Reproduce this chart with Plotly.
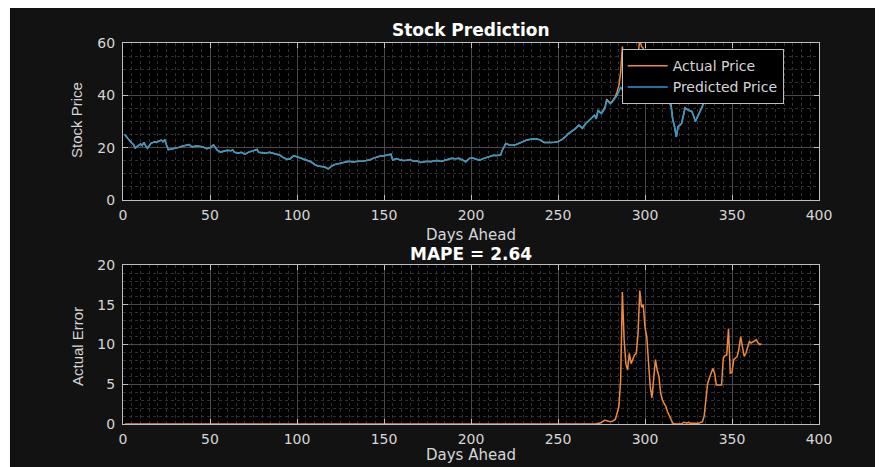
import plotly.graph_objects as go

# ---------------- data ----------------
days = [
    1, 2, 3, 4, 5, 6, 7, 8, 9, 10,
    11, 12, 13, 14, 15, 16, 17, 18, 19, 20,
    22, 23, 24, 25, 26, 28, 30, 32, 34, 36,
    38, 39, 40, 42, 44, 46, 48, 50, 52, 53,
    54, 56, 58, 60, 62, 63, 64, 66, 68, 70,
    72, 74, 76, 77, 78, 80, 82, 84, 86, 88,
    90, 92, 94, 96, 98, 100, 102, 104, 106, 108,
    110, 112, 114, 116, 118, 120, 122, 124, 126, 128,
    130, 132, 134, 136, 138, 140, 142, 144, 146, 148,
    150, 152, 154, 155, 157, 159, 161, 163, 165, 167,
    169, 171, 173, 175, 177, 179, 181, 183, 185, 187,
    189, 191, 193, 195, 197, 199, 201, 203, 205, 207,
    209, 211, 213, 215, 217, 218, 219, 220, 222, 224,
    226, 228, 230, 232, 234, 236, 238, 240, 242, 244,
    246, 248, 250, 252, 254, 256, 258, 260, 262, 264,
    266, 268, 270, 271, 272, 273, 274, 275, 276, 277,
    278, 279, 280, 281, 282, 283, 284, 285, 286, 287,
    288, 289, 290, 291, 292, 293, 294, 295, 296, 297,
    298, 299, 300, 301, 302, 303, 304, 305, 306, 307,
    308, 309, 310, 311, 312, 313, 314, 315, 316, 317,
    318, 319, 320, 321, 322, 323, 324, 325, 326, 327,
    328, 329, 330, 331, 332, 333, 334, 335, 336, 337,
    338, 339, 340, 341, 342, 343, 344, 345, 346, 347,
    348, 349, 350, 351, 352, 353, 354, 355, 356, 357,
    358, 359, 360, 361, 362, 363, 364, 365, 366, 367,
]

predicted_price = [
    25.0, 24.0, 23.0, 22.5, 21.8, 21.2, 19.8, 20.4, 21.0, 21.4,
    20.8, 22.0, 20.8, 19.8, 20.6, 21.6, 21.9, 22.2, 22.0, 22.4,
    22.9, 22.3, 23.0, 21.0, 19.2, 19.5, 19.7, 20.1, 20.5, 20.9,
    21.2, 20.6, 20.3, 20.7, 20.4, 20.3, 19.6, 19.9, 21.1, 20.2,
    19.1, 18.3, 18.6, 19.0, 18.8, 19.2, 18.3, 17.9, 18.2, 17.5,
    18.2, 18.7, 19.1, 19.3, 18.2, 18.0, 17.9, 18.2, 17.9, 17.6,
    17.2, 16.3, 15.6, 15.7, 16.9, 16.5, 16.0, 15.4, 15.1, 14.6,
    13.6, 13.0, 12.8, 12.6, 11.9, 13.0, 13.6, 14.0, 14.2, 14.5,
    14.8, 14.5, 14.7, 14.7, 14.9, 15.1, 15.4, 16.0, 16.5, 16.8,
    16.9, 17.1, 17.5, 15.3, 15.8, 15.4, 15.1, 15.2, 15.4, 14.8,
    14.9, 14.3, 14.5, 14.8, 14.6, 15.0, 15.1, 14.7, 15.2, 15.5,
    15.9, 15.8, 15.9, 15.3, 14.6, 15.9, 16.0, 15.6, 15.2, 15.8,
    16.2, 16.6, 17.1, 17.0, 17.2, 19.0, 20.5, 21.6, 21.0, 20.9,
    21.2, 21.6, 22.3, 22.9, 23.1, 23.4, 23.3, 22.9, 22.0, 21.9,
    22.0, 22.1, 22.3, 23.0, 24.0, 25.4, 26.2, 27.3, 28.6, 27.4,
    29.2, 30.5, 31.8, 32.4, 31.0, 34.3, 33.5, 33.0, 34.0, 35.0,
    38.1, 37.5, 36.8, 37.3, 38.1, 39.0, 40.0, 41.5, 43.2, 42.0,
    42.0, 42.6, 39.4, 41.0, 42.6, 42.4, 43.0, 43.5, 44.0, 44.5,
    44.0, 43.0, 42.0, 41.8, 41.3, 40.5, 40.0, 41.0, 42.0, 41.5,
    41.3, 42.6, 39.5, 38.8, 38.5, 38.1, 37.0, 35.6, 30.5, 28.0,
    24.1, 28.0, 28.5, 29.2, 32.0, 35.0, 34.6, 34.3, 34.0, 33.7,
    32.0, 30.0, 31.5, 33.0, 34.5, 35.6, 38.0, 40.7, 41.8, 42.6,
    43.0, 43.2, 42.0, 40.0, 42.5, 43.5, 43.0, 43.3, 43.8, 43.0,
    40.7, 43.0, 44.0, 43.5, 43.0, 43.8, 43.5, 43.8, 43.2, 43.0,
    43.6, 44.0, 44.2, 43.5, 43.8, 43.6, 43.4, 43.7, 43.5, 43.6,
]

actual_price = [
    25.0, 24.0, 23.0, 22.5, 21.8, 21.2, 19.8, 20.4, 21.0, 21.4,
    20.8, 22.0, 20.8, 19.8, 20.6, 21.6, 21.9, 22.2, 22.0, 22.4,
    22.9, 22.3, 23.0, 21.0, 19.2, 19.5, 19.7, 20.1, 20.5, 20.9,
    21.2, 20.6, 20.3, 20.7, 20.4, 20.3, 19.6, 19.9, 21.1, 20.2,
    19.1, 18.3, 18.6, 19.0, 18.8, 19.2, 18.3, 17.9, 18.2, 17.5,
    18.2, 18.7, 19.1, 19.3, 18.2, 18.0, 17.9, 18.2, 17.9, 17.6,
    17.2, 16.3, 15.6, 15.7, 16.9, 16.5, 16.0, 15.4, 15.1, 14.6,
    13.6, 13.0, 12.8, 12.6, 11.9, 13.0, 13.6, 14.0, 14.2, 14.5,
    14.8, 14.5, 14.7, 14.7, 14.9, 15.1, 15.4, 16.0, 16.5, 16.8,
    16.9, 17.1, 17.5, 15.3, 15.8, 15.4, 15.1, 15.2, 15.4, 14.8,
    14.9, 14.3, 14.5, 14.8, 14.6, 15.0, 15.1, 14.7, 15.2, 15.5,
    15.9, 15.8, 15.9, 15.3, 14.6, 15.9, 16.0, 15.6, 15.2, 15.8,
    16.2, 16.6, 17.1, 17.0, 17.2, 19.0, 20.5, 21.6, 21.0, 20.9,
    21.2, 21.6, 22.3, 22.9, 23.1, 23.4, 23.3, 22.9, 22.0, 21.9,
    22.0, 22.1, 22.3, 23.0, 24.0, 25.4, 26.2, 27.3, 28.6, 27.4,
    29.2, 30.5, 31.8, 32.4, 31.0, 34.4, 33.6, 33.2, 34.3, 35.5,
    38.5, 37.8, 37.1, 37.6, 38.5, 39.6, 41.4, 43.7, 48.7, 58.6,
    52.6, 50.2, 46.2, 49.9, 50.2, 50.6, 51.7, 52.4, 55.4, 61.3,
    58.7, 58.0, 54.2, 52.8, 48.5, 45.2, 43.3, 46.6, 50.1, 48.3,
    47.3, 46.5, 42.5, 41.4, 40.7, 39.6, 38.0, 36.3, 30.6, 28.0,
    24.1, 28.0, 28.5, 29.2, 32.2, 35.2, 34.7, 34.5, 34.1, 33.8,
    32.1, 30.1, 31.6, 33.1, 34.7, 35.9, 39.0, 43.7, 46.9, 48.4,
    49.4, 50.2, 48.4, 44.9, 47.4, 48.4, 47.9, 51.6, 52.4, 51.7,
    52.7, 49.4, 50.5, 51.6, 51.3, 52.3, 53.0, 54.8, 52.9, 51.5,
    52.5, 53.6, 54.6, 53.7, 54.1, 54.0, 54.0, 53.9, 53.5, 53.7,
]

error_days = [1, 272] + list(range(273, 368))
actual_error = [
    0.0, 0.0,
    0.1, 0.1, 0.2, 0.3, 0.5, 0.4, 0.3, 0.3, 0.3, 0.4,
    0.6, 1.4, 2.2, 5.5, 16.6, 10.6, 7.6, 6.8, 8.9, 7.6,
    8.2, 8.7, 8.9, 11.4, 16.8, 14.7, 15.0, 12.2, 11.0, 7.2,
    4.7, 3.3, 5.6, 8.1, 6.8, 6.0, 3.9, 3.0, 2.6, 2.2,
    1.5, 1.0, 0.7, 0.1, 0.0, 0.0, 0.0, 0.0, 0.0, 0.2,
    0.2, 0.1, 0.2, 0.1, 0.1, 0.1, 0.1, 0.1, 0.1, 0.2,
    0.3, 1.0, 3.0, 5.1, 5.8, 6.4, 7.0, 6.4, 4.9, 4.9,
    4.9, 4.9, 8.3, 8.6, 8.7, 12.0, 6.4, 6.5, 8.1, 8.3,
    8.5, 9.5, 11.0, 9.7, 8.5, 8.9, 9.6, 10.4, 10.2, 10.3,
    10.4, 10.6, 10.2, 10.0, 10.1,
]

x_ticks = [0, 50, 100, 150, 200, 250, 300, 350, 400]
price_ticks = [0, 20, 40, 60]
error_ticks = [0, 5, 10, 15, 20]

# ---------------- style ----------------
BLUE = "#2A9BD6"
ORANGE = "#EE8A3C"
PAPER = "#121212"
PLOT = "#000000"
AXIS = "#BFBFBF"
TICK = "#D6D6D6"
GRID = "#4A4A4A"
MINOR = "#303030"
FONT = "DejaVu Sans"

fig = go.Figure()
fig.add_trace(go.Scatter(x=days, y=actual_price, mode="lines", name="Actual Price",
                         line=dict(color=ORANGE, width=1.5), xaxis="x", yaxis="y"))
fig.add_trace(go.Scatter(x=days, y=predicted_price, mode="lines", name="Predicted Price",
                         line=dict(color=BLUE, width=1.5), xaxis="x", yaxis="y"))
fig.add_trace(go.Scatter(x=error_days, y=actual_error, mode="lines", showlegend=False,
                         line=dict(color=ORANGE, width=1.5), xaxis="x2", yaxis="y2"))


def ax(standoff, **kw):
    d = dict(showline=True, linecolor=AXIS, linewidth=1, mirror="ticks",
             ticks="inside", ticklen=5, tickcolor=AXIS, tickwidth=1,
             showgrid=True, gridcolor=GRID, gridwidth=1, zeroline=False,
             tickfont=dict(family=FONT, size=14, color=TICK),
             ticklabelstandoff=standoff, fixedrange=True, automargin=False)
    d.update(kw)
    return d


x_minor = dict(dtick=5, tick0=0, showgrid=True, gridcolor=MINOR, griddash="dot", ticks="")
xtitle_font = dict(family=FONT, size=15, color=TICK)
ytitle_font = dict(family="Liberation Sans", size=15, color=TICK)
title_font = dict(family=FONT, size=17, color="#FFFFFF")


def label(text, x, y, font, angle=0, yanchor="middle"):
    return dict(text=text, xref="paper", yref="paper", x=x, y=y, textangle=angle,
                xanchor="center", yanchor=yanchor, showarrow=False, font=font)


# The page body has an 8px margin; the figure is sized to fill the rest of the window.
fig.update_layout(
    width=869, height=459,
    margin=dict(l=115, r=58, t=35, b=43, autoexpand=False),
    paper_bgcolor=PAPER, plot_bgcolor=PLOT,
    font=dict(family=FONT, color=TICK),
    xaxis=ax(2, domain=[0, 1], anchor="y", range=[0, 400], tickvals=x_ticks, minor=x_minor),
    yaxis=ax(4, domain=[0.588, 1], anchor="x", range=[0, 60], tickvals=price_ticks,
             minor=dict(dtick=5, tick0=0, showgrid=True, gridcolor=MINOR, griddash="dot", ticks="")),
    xaxis2=ax(2, domain=[0, 1], anchor="y2", range=[0, 400], tickvals=x_ticks, minor=x_minor),
    yaxis2=ax(4, domain=[0, 0.417], anchor="x2", range=[0, 20], tickvals=error_ticks,
              minor=dict(dtick=1, tick0=0, showgrid=True, gridcolor=MINOR, griddash="dot", ticks="")),
    legend=dict(x=0.7165, y=0.984, xanchor="left", yanchor="top",
                bgcolor="#000000", bordercolor=AXIS, borderwidth=1,
                font=dict(family=FONT, size=14, color=TICK),
                tracegroupgap=0, itemwidth=40),
    annotations=[
        label("<b>Stock Prediction</b>", 0.5, 1.034, title_font),
        label("<b>MAPE = 2.64</b>", 0.5, 0.446, title_font),
        label("Days Ahead", 0.5, 0.496, xtitle_font),
        label("Days Ahead", 0.5, -0.1102, xtitle_font, yanchor="bottom"),
        label("Stock Price", -0.0661, 0.798, ytitle_font, -90),
        label("Actual Error", -0.0661, 0.2047, ytitle_font, -90),
    ],
    shapes=[
        dict(type="rect", xref="paper", yref="paper", x0=-0.2, x1=-0.1624, y0=-0.2, y1=1.2,
             fillcolor="#FFFFFF", line=dict(width=0), layer="above"),
    ],
)

fig.write_html("out.html", config={"displayModeBar": False})
